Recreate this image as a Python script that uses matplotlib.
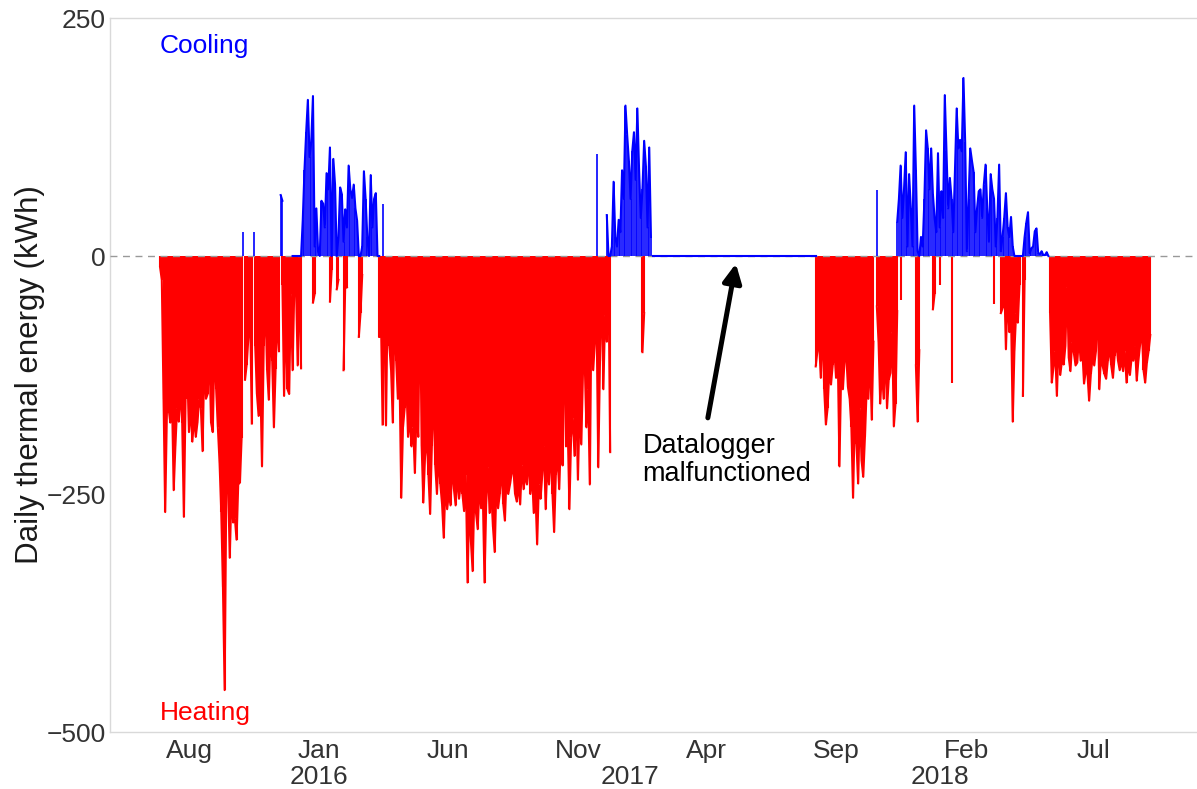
import numpy as np
import pandas as pd
import matplotlib
matplotlib.use('Agg')
import matplotlib.pyplot as plt

nan = np.nan

# daily thermal energy, one value every 2nd day (kWh); heating negative, cooling positive
heat_2015_start = '2015-06-28'
heat_2015 = [-12, -25, -150, -269, -165, -160, -175, -150, -246, -200,
             -160, -174, -140, -175, -274, -150, -120, -185, -160, -195,
             -170, -190, -175, -150, -160, -205, -110, -150, -145, -100,
             -175, -185, -95, -140, -180, -217, -269, -348, -456, -240,
             -234, -317, -250, -280, -275, -298, -240, -238, -191, nan,
             -130, -114, -85, -60, -176, nan, -95, -145, -168, -130,
             -221, -95, -51, -120, -151, -80, -110, -180, -119, -64,
             -100, nan, -30, -147, -60, -140, -145, -40, -120, -35,
             -30, -115, -20, -118, nan, nan, nan, nan, nan, nan,
             -49, -40, nan, nan, nan, nan, nan, nan, nan, nan,
             -48, -15, nan, nan, -35, -25, nan, nan, -120, -30,
             -33, nan, nan, nan, nan, nan, nan, -85, -60, -20,
             nan, nan, nan, nan, nan, nan, nan, nan, nan, -85,
             -60, -177]

heat_2016_start = '2016-03-18'
heat_2016 = [-60, -178, -40, -95, -120, -175, -60, -110, -150, -130,
             -254, -180, -160, -135, -190, -170, -200, -180, -228, -160,
             -190, -36, -200, -259, -210, -190, -230, -271, -200, -140,
             -220, -250, -210, -240, -260, -296, -240, -266, -250, -262,
             -220, -245, -262, -230, -255, -240, -250, -268, -230, -343,
             -260, -300, -331, -250, -270, -287, -240, -265, -250, -343,
             -260, -222, -270, -250, -285, -311, -240, -265, -250, -220,
             -260, -278, -230, -250, -240, -228, -224, -250, -258, -240,
             -261, -220, -245, -230, -240, -210, -250, -230, -270, -250,
             -303, -240, -255, -230, -200, -266, -219, -240, -200, -250,
             -290, -230, -210, -245, -190, -220, -70, -200, -180, -266,
             -190, -170, -210, -150, -235, -160, -198, -120, -112, -180,
             -140, -240, -51, -120, -90, -69, -222, -110, -27, -140,
             -62, -90, -20, -206, nan, nan, nan, nan, nan, nan,
             nan, nan, nan, nan, nan, nan, nan, nan, nan, nan,
             nan, nan, -101, -60, nan, nan, nan, nan]

heat_2017_start = '2017-08-08'
heat_2017 = [-116, -100, -90, -128, -70, -140, -177, -160, -120, -135,
             -115, -100, -128, -105, -221, -120, -140, -110, -105, -138,
             -150, -180, -254, -170, -198, -239, -160, -215, -232, -190,
             -140, -150, -105, -172, -90, nan, -53, -90, -155, -120,
             -150, -100, -160, -130, -123, -80, -179, -155, -58, nan,
             -46, nan, nan, nan, nan, nan, nan, nan, nan, -115,
             -174, -99, nan, nan, nan, nan, nan, nan, nan, -56,
             -40, nan, nan, -30, nan, nan, nan, nan, nan, nan,
             -133, nan, nan, nan, nan, nan, nan, nan, nan, nan,
             nan, nan, nan, nan, nan, nan, nan, nan, nan, nan,
             nan, nan, nan, nan, nan, -50, nan, nan, nan, -60,
             -55, -25, -98, -40, -80, -60, -174, -100, -60, -70,
             -30, nan, -147, -25, nan, nan, nan, nan, nan, nan,
             nan, nan, nan, nan, nan, nan, nan, nan]

heat_2018_start = '2018-05-11'
heat_2018 = [-60, -133, -117, -100, -147, -90, -125, -110, -114, -95,
             -33, -107, -121, -90, -102, -115, -112, -86, -110, -100,
             -134, -121, -124, -152, -124, -107, -115, -100, -45, -140,
             -105, -116, -124, -129, -110, -96, -115, -128, -105, -91,
             -110, -120, -110, -121, -100, -133, -114, -125, -107, -110,
             -95, -131, -110, -93, -76, -120, -133, -112, -100, -83]

cool_2015_start = '2015-10-04'
cool_2015 = [25, nan, nan, nan, nan, nan, 25, nan, nan, nan,
             nan, nan, nan, nan, nan, nan, nan, nan, nan, nan,
             nan, nan, 64, 58, nan, nan, nan, nan, nan, 0,
             0, 0, 0, 0, 0, 38, 90, 130, 164, 104,
             120, 168, 10, 50, 5, 0, 58, 55, 30, 87,
             70, 114, 0, 102, 75, 0, 20, 72, 65, 15,
             49, 30, 95, 70, 61, 75, 50, 37, 0, 0,
             10, 89, 60, 20, 0, 85, 30, 60, 66, 0,
             0, nan, 55]

cool_2016_start = '2016-11-23'
cool_2016 = [107, nan, nan, nan, nan, nan, 43, 0, 0, 10,
             78, 20, 10, 38, 25, 90, 60, 158, 127, 100,
             60, 110, 130, 80, 155, 91, 40, 70, 121, 95,
             30, 114, 20]

# datalogger down: cooling reads flat zero
outage_start, outage_end = '2017-01-28', '2017-08-08'

cool_2017_start = '2017-10-19'
cool_2017 = [69, nan, nan, nan, nan, nan, nan, nan, nan, nan,
             nan, nan, 36, 60, 95, 40, 70, 109, 10, 86,
             50, 10, 158, 90, 5, 0, 20, 10, 60, 132,
             113, 70, 113, 65, 40, 25, 108, 30, 68, 40,
             169, 110, 50, 82, 60, 25, 90, 155, 113, 122,
             110, 187, 120, 5, 60, 113, 100, 88, 25, 50,
             68, 70, 40, 75, 96, 50, 15, 86, 70, 60,
             10, 40, 96, 5, 20, 40, 66, 30, 20, 41,
             10, 0, 0, 0, 0, 0, 0, 20, 35, 46,
             3, 8, 10, 26, 29, 3, 2, 5, 1, 1,
             4, 0]

month_ticks = ['2015-08-01', '2016-01-01', '2016-06-01', '2016-11-01',
               '2017-04-01', '2017-09-01', '2018-02-01', '2018-07-01']
month_labels = ['Aug', 'Jan', 'Jun', 'Nov', 'Apr', 'Sep', 'Feb', 'Jul']
year_labels = ['2016', '2017', '2018']

plt.rcParams['font.family'] = ['Liberation Sans', 'DejaVu Sans']


def to_dates(start, vals):
    return pd.date_range(start, periods=len(vals), freq='2D')


fig = plt.figure(figsize=(11.97, 7.89), dpi=100)
ax = fig.add_axes([110 / 1197, 1 - 732 / 789, 1 - 110 / 1197, 714 / 789])

for start, vals in [(heat_2015_start, heat_2015), (heat_2016_start, heat_2016),
                    (heat_2017_start, heat_2017), (heat_2018_start, heat_2018)]:
    d = to_dates(start, vals)
    ax.vlines(d, 0, vals, color='#ff0000', lw=1.5, zorder=2)
    ax.plot(d, vals, color='#ff0000', lw=1.5, zorder=2)

ax.axhline(0, color='#999999', lw=1.0, ls=(0, (5, 4)), zorder=3)

for start, vals in [(cool_2015_start, cool_2015), (cool_2016_start, cool_2016),
                    (cool_2017_start, cool_2017)]:
    d = to_dates(start, vals)
    ax.vlines(d, 0, vals, color='#0000ff', lw=1.2, zorder=4)
    ax.plot(d, vals, color='#0000ff', lw=1.5, zorder=4)

ax.plot(pd.to_datetime([outage_start, outage_end]), [0, 0], color='#0000ff', lw=1.5, zorder=4)

# labels inside the panel
ax.text(pd.Timestamp('2015-06-28'), 221, 'Cooling', color='#0000ff', fontsize=19,
        ha='left', va='center')
ax.text(pd.Timestamp('2015-06-28'), -480, 'Heating', color='#ff0000', fontsize=19,
        ha='left', va='center')

ax.annotate('', xy=(pd.Timestamp('2017-05-06'), -8), xytext=(pd.Timestamp('2017-04-03'), -170),
            arrowprops=dict(arrowstyle='-|>', color='black', lw=3.6, mutation_scale=28,
                            shrinkA=0, shrinkB=0), zorder=5)
ax.text(pd.Timestamp('2017-01-16'), -214, 'Datalogger\nmalfunctioned', fontsize=19.5,
        ha='left', va='center', linespacing=1.1, color='black')

ax.set_xlim(pd.Timestamp('2015-04-30'), pd.Timestamp('2018-10-31'))
ax.set_ylim(-500, 250)
ax.set_yticks([-500, -250, 0, 250])
ax.set_xticks(pd.to_datetime(month_ticks))
ax.set_xticklabels(month_labels)
ax.tick_params(axis='both', length=0, labelsize=19, labelcolor='#333333')
ax.tick_params(axis='x', pad=5)
ax.tick_params(axis='y', pad=3)

for y in year_labels:
    ax.text(pd.Timestamp(y + '-01-01'), -0.063, y, transform=ax.get_xaxis_transform(),
            ha='center', va='center', fontsize=19, color='#333333')

ax.set_ylabel('Daily thermal energy (kWh)', fontsize=22.5, labelpad=1, color='#1a1a1a')

for side in ['left', 'top', 'bottom']:
    ax.spines[side].set_color('#d9d9d9')
    ax.spines[side].set_linewidth(1.0)
ax.spines['right'].set_visible(False)

fig.savefig('out.png', dpi=100)
